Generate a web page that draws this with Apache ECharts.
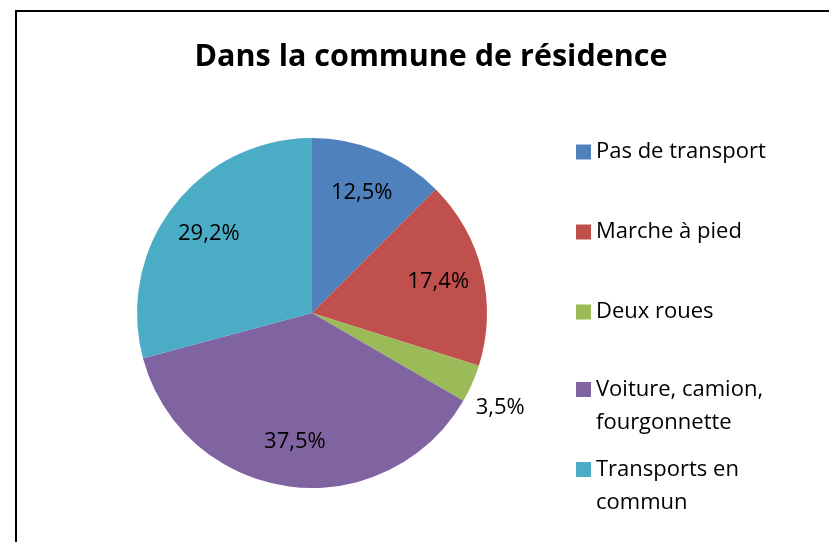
<!DOCTYPE html>
<html>
<head>
<meta charset="utf-8">
<script src="https://cdn.jsdelivr.net/npm/echarts@6/dist/echarts.min.js"></script>
<style>
  html, body { margin: 0; padding: 0; background: #fff; }
  #chart { width: 829px; height: 542px; }
</style>
</head>
<body>
<div id="chart"></div>
<script>
// Modes de déplacement dans la commune de résidence (en %)
const categories = [
  'Pas de transport',
  'Marche à pied',
  'Deux roues',
  'Voiture, camion,\nfourgonnette',
  'Transports en\ncommun'
];
const shares = [12.5, 17.4, 3.5, 37.5, 29.2];
const colors = ['#4F81BD', '#C0504D', '#9BBB59', '#8064A2', '#4BACC6'];

const FONT = '"Open Sans", "Noto Sans", sans-serif';
const CX = 312, CY = 313, R = 175;
const INNER_LABEL_DIST = 130;   // distance of in-slice labels from the centre
const OUTER_LABEL_DIST = 211;   // distance for labels of thin slices
const OUTER_LABEL_TURN = 3;     // extra clockwise turn (degrees) for outside labels
const THIN_SLICE = 5;           // slices below this share get an outside label

const total = shares.reduce((a, b) => a + b, 0);
function midAngle(i) {
  let cum = 0;
  for (let k = 0; k < i; k++) cum += shares[k];
  return ((cum + shares[i] / 2) / total) * Math.PI * 2; // clockwise from 12 o'clock
}

const pieData = categories.map((name, i) => ({
  name,
  value: shares[i],
  itemStyle: { color: colors[i] }
}));

// square at the height of the first text line for two-line legend entries
const topSquare = 'path://M0,0h15v15h-15zM0,48';

const chart = echarts.init(document.getElementById('chart'), null, { renderer: 'canvas' });
chart.setOption({
  animation: false,
  title: {
    text: 'Dans la commune de résidence',
    left: 426,
    top: 37,
    textAlign: 'center',
    textStyle: { fontFamily: FONT, fontWeight: 'bold', fontSize: 30.5, color: '#000' }
  },
  graphic: [{
    type: 'rect',
    shape: { x: 16, y: 11, width: 900, height: 600 },
    style: { fill: 'none', stroke: '#000', lineWidth: 2 },
    silent: true
  }],
  legend: [{
    orient: 'vertical',
    left: 571,
    top: 134,
    itemWidth: 15,
    itemHeight: 15,
    itemGap: 54,
    itemStyle: { borderWidth: 0 },
    icon: 'rect',
    data: categories.slice(0, 3),
    textStyle: { fontFamily: FONT, fontSize: 22, color: '#000', lineHeight: 26 }
  }, {
    orient: 'vertical',
    left: 571,
    top: 368,
    itemWidth: 15,
    itemHeight: 48,
    itemGap: 14,
    itemStyle: { borderWidth: 0 },
    icon: topSquare,
    data: categories.slice(3),
    textStyle: { fontFamily: FONT, fontSize: 22, color: '#000', lineHeight: 33 }
  }],
  series: [{
    type: 'pie',
    center: [CX, CY],
    radius: [0, R],
    startAngle: 90,
    clockwise: true,
    data: pieData,
    itemStyle: { borderWidth: 0 },
    label: {
      show: true,
      position: 'inside',
      fontFamily: FONT,
      fontSize: 22,
      color: '#000',
      formatter: p => p.value.toFixed(1).replace('.', ',') + '%'
    },
    labelLine: { show: false },
    labelLayout: params => {
      const i = params.dataIndex;
      const thin = shares[i] < THIN_SLICE;
      const a = midAngle(i) + (thin ? OUTER_LABEL_TURN * Math.PI / 180 : 0);
      const d = thin ? OUTER_LABEL_DIST : INNER_LABEL_DIST;
      return {
        x: CX + d * Math.sin(a),
        y: CY - d * Math.cos(a),
        align: 'center',
        verticalAlign: 'middle'
      };
    },
    emphasis: { disabled: true }
  }]
});
</script>
</body>
</html>
